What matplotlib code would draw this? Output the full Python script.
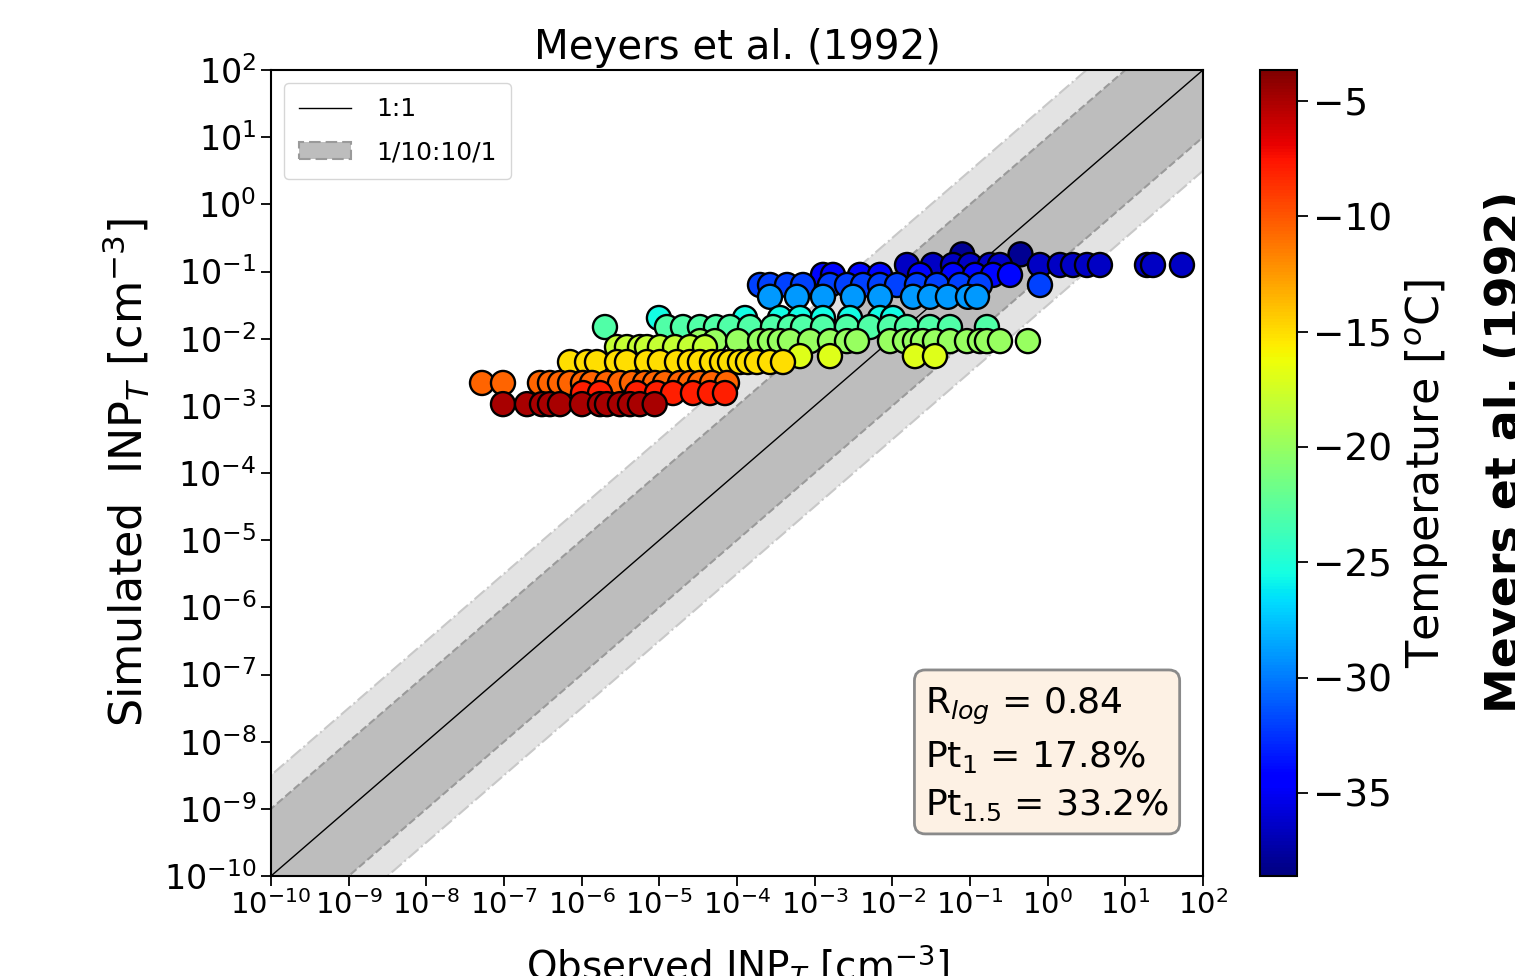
import numpy as np
import matplotlib
matplotlib.use("Agg")
import matplotlib.pyplot as plt
from matplotlib.colors import Normalize

# Meyers et al. (1992) INP parameterisation vs observations, grouped by temperature.
# Groups are listed coldest first so warmer points are drawn on top.
temps = [-38, -36.5, -34, -32, -29, -25.5, -23, -20, -18, -17, -15, -10.5, -8, -5]
sim_inp = [0.18, 0.125, 8.9e-2, 6.3e-2, 4.2e-2, 2.03e-2, 1.49e-2,
           9.2e-3, 7.5e-3, 5.5e-3, 4.49e-3, 2.19e-3, 1.55e-3, 1.06e-3]

# log10 of observed INP [cm-3] for each temperature group
obs_m38 = [-1.10, -0.35]
obs_m365 = [-1.811, -1.477, -1.219, -1.000, -0.743, -0.614, -0.099, 0.158,
            0.326, 0.506, 0.673, 1.279, 1.356, 1.729]
obs_m34 = [-2.893, -2.764, -2.416, -2.159, -1.644, -1.219, -0.936, -0.704, -0.485]
obs_m32 = [-3.704, -3.575, -3.356, -3.150, -2.803, -2.584, -2.378, -2.159,
           -1.940, -1.683, -1.425, -1.129, -0.872, -0.099]
obs_m29 = [-3.575, -3.228, -2.893, -2.507, -2.159, -1.734, -1.515, -1.284,
           -1.026, -0.910]
obs_m255 = [-5.005, -3.897, -3.447, -3.189, -2.893, -2.545, -2.159, -1.992]
obs_m23 = [-5.700, -4.902, -4.696, -4.477, -4.271, -4.090, -3.833, -3.537,
           -3.318, -3.150, -2.893, -2.584, -2.288, -2.030, -1.811, -1.515,
           -1.258, -0.782]
obs_m20 = [-4.477, -4.284, -3.987, -3.704, -3.575, -3.447, -3.318, -3.060,
           -2.803, -2.584, -2.455, -2.030, -1.837, -1.709, -1.606, -1.451,
           -1.258, -1.039, -0.872, -0.782, -0.614, -0.254]
obs_m18 = [-5.545, -5.417, -5.249, -5.159, -4.992, -4.798, -4.605, -4.412]
obs_m17 = [-3.189, -2.803, -1.709, -1.451]
obs_m15 = [-6.150, -5.931, -5.803, -5.545, -5.417, -5.159, -4.992, -4.773,
           -4.605, -4.477, -4.322, -4.193, -4.090, -3.962, -3.859, -3.743,
           -3.575, -3.408]
obs_m105 = [-7.283, -7.013, -6.537, -6.408, -6.279, -6.150, -5.983, -5.867,
            -5.674, -5.507, -5.352, -5.185, -5.056, -4.927, -4.734, -4.605,
            -4.477, -4.322, -4.129]
obs_m08 = [-5.983, -5.764, -5.288, -5.030, -4.824, -4.567, -4.348, -4.155]
obs_m05 = [-7.013, -6.704, -6.511, -6.408, -6.279, -5.996, -5.764, -5.674,
           -5.507, -5.378, -5.250, -5.060]
obs_groups = [obs_m38, obs_m365, obs_m34, obs_m32, obs_m29, obs_m255, obs_m23,
              obs_m20, obs_m18, obs_m17, obs_m15, obs_m105, obs_m08, obs_m05]

decades = np.arange(-10, 3)
stats_text = "R$_{log}$ = 0.84\nPt$_{1}$ = 17.8%\nPt$_{1.5}$ = 33.2%"

W, H = 1515, 976
fig = plt.figure(figsize=(W / 100, H / 100), dpi=100)
ax = fig.add_axes([271 / W, 1 - 876 / H, 932 / W, 806 / H])
cax = fig.add_axes([1260 / W, 1 - 876 / H, 37 / W, 806 / H])

# 1:1 line with factor-10 and factor-10^1.5 bands
xx = np.logspace(-11, 3, 200)
ax.fill_between(xx, xx / 10**1.5, xx * 10**1.5, facecolor="#e3e3e3",
                edgecolor="#c8c8c8", linestyle="-.", lw=1.5, zorder=1)
ax.fill_between(xx, xx / 10, xx * 10, facecolor="#bdbdbd", edgecolor="#9a9a9a",
                linestyle="--", lw=1.5, zorder=2, label="1/10:10/1")
ax.plot(xx, xx, color="k", lw=1, zorder=3, label="1:1")

norm = Normalize(vmin=-38.6, vmax=-3.66)
cmap = plt.get_cmap("jet")
for t, ys, obs in zip(temps, sim_inp, obs_groups):
    ox = 10.0 ** np.array(obs)
    oy = np.full(len(obs), ys)
    sc = ax.scatter(ox, oy, c=np.full(len(obs), t), cmap=cmap, norm=norm,
                    s=300, edgecolors="k", linewidths=1.7, zorder=4)

ax.set_xscale("log")
ax.set_yscale("log")
ax.set_xlim(1e-10, 1e2)
ax.set_ylim(1e-10, 1e2)
ax.set_xticks(10.0 ** decades)
ax.set_yticks(10.0 ** decades)
ax.xaxis.set_minor_locator(matplotlib.ticker.NullLocator())
ax.yaxis.set_minor_locator(matplotlib.ticker.NullLocator())
ax.tick_params(axis="x", labelsize=21, length=7, width=1.3)
ax.tick_params(axis="y", labelsize=24, length=7, width=1.3)
for sp in ax.spines.values():
    sp.set_linewidth(1.5)

ax.set_title("Meyers et al. (1992)", fontsize=29, pad=8)

handles, labels = ax.get_legend_handles_labels()
leg = ax.legend(handles[::-1], labels[::-1], loc="upper left", fontsize=18,
                handlelength=2.1, handletextpad=1.0, borderpad=0.6,
                labelspacing=0.75, borderaxespad=0.5)

ax.text(0.702, 0.236, stats_text, transform=ax.transAxes, fontsize=26,
        va="top", ha="left", linespacing=1.45,
        bbox=dict(boxstyle="round,pad=0.3", facecolor="#fdf1e4",
                  edgecolor="#8a8a8a", lw=2), zorder=6)

cb = fig.colorbar(sc, cax=cax)
cb.set_ticks([-5, -10, -15, -20, -25, -30, -35])
cb.ax.tick_params(labelsize=27, length=8, width=1.3)
cb.outline.set_linewidth(1.5)

fig.text(126 / W, 1 - 472 / H, "Simulated  INP$_T$ [cm$^{-3}$]", rotation=90,
         fontsize=32, ha="center", va="center")
fig.text(738 / W, 1 - 942 / H, "Observed INP$_T$ [cm$^{-3}$]", fontsize=28,
         ha="center", va="top")
fig.text(1427 / W, 1 - 473 / H, "Temperature [$^o$C]", rotation=90,
         fontsize=32, ha="center", va="center")
fig.text(1484 / W, 1 - 452 / H, "Meyers et al. (1992)", rotation=90,
         fontsize=33, fontweight="bold", ha="left", va="center")

fig.savefig("out.png", dpi=100)
